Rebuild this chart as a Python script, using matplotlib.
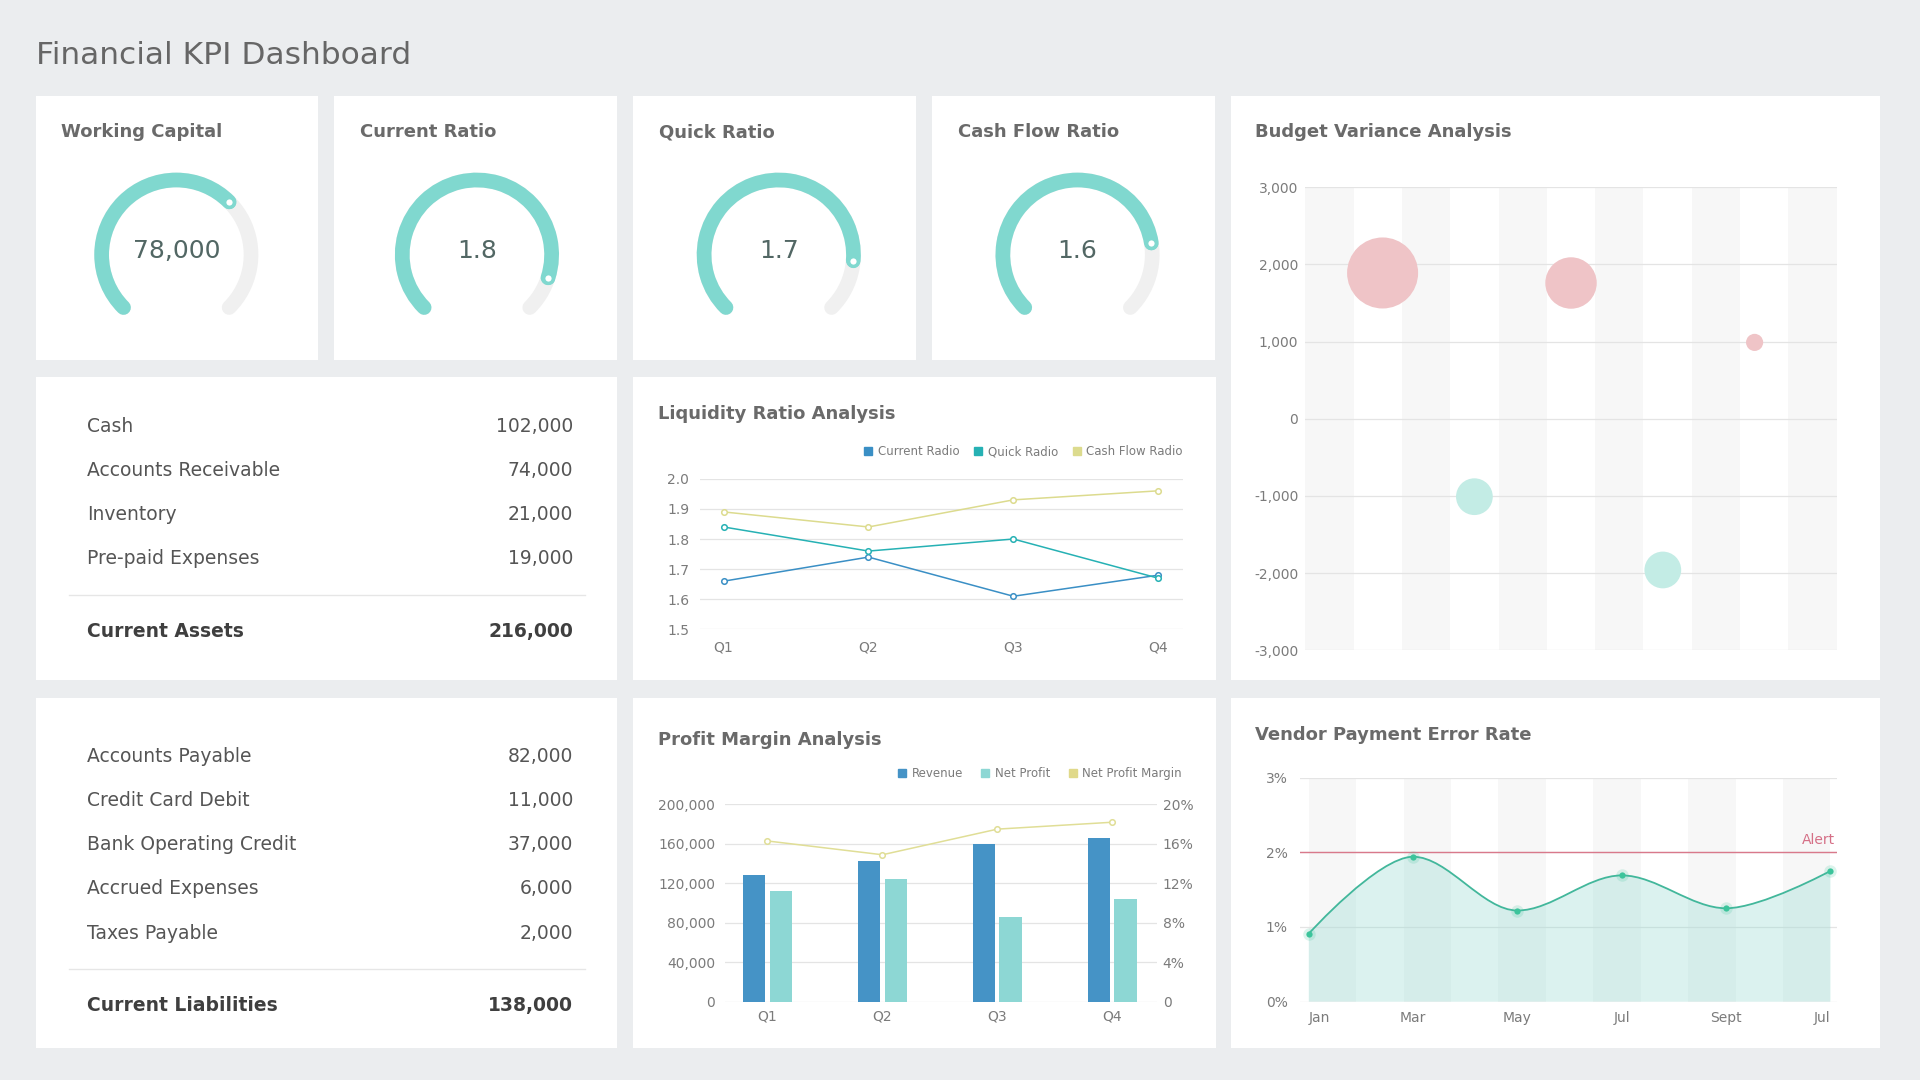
import numpy as np
import matplotlib
matplotlib.use('Agg')
import matplotlib.pyplot as plt
from matplotlib.patches import Rectangle, Arc, PathPatch
from matplotlib.path import Path
from matplotlib.lines import Line2D

# layout is measured on a 1568x882 grid, figure is 1920x1080
W, H = 1568, 882
PT = (1920 / W) * 0.72  # layout px -> points

# ---- data ----
gauge_titles = ['Working Capital', 'Current Ratio', 'Quick Ratio', 'Cash Flow Ratio']
gauge_values = [78000, 1.8, 1.7, 1.6]
gauge_max = [117000, 2.0, 2.0, 2.0]
gauge_labels = ['78,000', '1.8', '1.7', '1.6']

asset_names = ['Cash', 'Accounts Receivable', 'Inventory', 'Pre-paid Expenses']
asset_values = [102000, 74000, 21000, 19000]
liability_names = ['Accounts Payable', 'Credit Card Debit', 'Bank Operating Credit',
                   'Accrued Expenses', 'Taxes Payable']
liability_values = [82000, 11000, 37000, 6000, 2000]

quarters = ['Q1', 'Q2', 'Q3', 'Q4']
current_ratio = [1.66, 1.74, 1.61, 1.68]
quick_ratio = [1.84, 1.76, 1.80, 1.67]
cash_flow_ratio = [1.89, 1.84, 1.93, 1.96]

revenue = [128000, 143000, 160000, 166000]
net_profit = [112000, 124000, 86000, 104000]
net_margin = [16.3, 14.9, 17.5, 18.2]

budget_x = [1.6, 3.5, 5.5, 7.4, 9.3]
budget_variance = [1890, -1010, 1760, -1960, 990]
budget_weight = [29, 15, 21, 15, 7]

months = ['Jan', 'Mar', 'May', 'Jul', 'Sept', 'Jul']
error_rate = [0.91, 1.94, 1.22, 1.69, 1.25, 1.75]
alert_level = 2.0

# ---- style ----
BG = '#ebedef'
TITLE_C = '#6a6a6a'
TEXT_C = '#555555'
TICK_C = '#7b7b7b'
GRID_C = '#e4e4e4'
TEAL = '#80d8cf'
TICK_FS = 10
LEG_FS = 8.5
TAB_FS = 13.5


def rect(x0, y0, x1, y1):
    return [x0 / W, 1 - y1 / H, (x1 - x0) / W, (y1 - y0) / H]


def clean(ax):
    for s in ax.spines.values():
        s.set_visible(False)
    ax.tick_params(length=0, labelsize=TICK_FS, labelcolor=TICK_C)
    ax.set_axisbelow(True)
    ax.yaxis.grid(True, color=GRID_C, lw=0.9)
    ax.set_facecolor('none')


def smooth_path(x, y, base=None):
    x = np.asarray(x, float)
    y = np.asarray(y, float)
    n = len(x)
    m = np.zeros(n)
    for i in range(1, n - 1):
        d0 = (y[i] - y[i - 1]) / (x[i] - x[i - 1])
        d1 = (y[i + 1] - y[i]) / (x[i + 1] - x[i])
        m[i] = 0 if d0 * d1 <= 0 else (d0 + d1) / 2
    verts = [(x[0], y[0])]
    codes = [Path.MOVETO]
    for i in range(n - 1):
        dx = x[i + 1] - x[i]
        c1 = (x[i] + dx / 3, y[i] + m[i] * dx / 3) if i > 0 else (x[i], y[i])
        c2 = (x[i + 1] - dx / 3, y[i + 1] - m[i + 1] * dx / 3) if i < n - 2 else (x[i + 1], y[i + 1])
        verts += [c1, c2, (x[i + 1], y[i + 1])]
        codes += [Path.CURVE4] * 3
    if base is not None:
        verts += [(x[-1], base), (x[0], base), (x[0], y[0])]
        codes += [Path.LINETO, Path.LINETO, Path.CLOSEPOLY]
    return Path(verts, codes)


fig = plt.figure(figsize=(19.2, 10.8), dpi=100, facecolor=BG)
bg = fig.add_axes([0, 0, 1, 1], zorder=0)
bg.set_xlim(0, W)
bg.set_ylim(H, 0)
bg.axis('off')

cards = [(29, 78, 260, 294), (273, 78, 504, 294), (517, 78, 748, 294), (761, 78, 992, 294),
         (1005, 78, 1535, 555), (29, 308, 504, 555), (517, 308, 993, 555),
         (29, 570, 504, 856), (517, 570, 993, 856), (1005, 570, 1535, 856)]
for x0, y0, x1, y1 in cards:
    bg.add_patch(Rectangle((x0, y0), x1 - x0, y1 - y0, color='white', lw=0))

bg.text(29, 45, 'Financial KPI Dashboard', fontsize=22.5, color='#666666', va='center')

for txt, x, y in [('Budget Variance Analysis', 1025, 108), ('Liquidity Ratio Analysis', 537, 338),
                  ('Profit Margin Analysis', 537, 604), ('Vendor Payment Error Rate', 1025, 600)]:
    bg.text(x, y, txt, fontsize=13, fontweight='bold', color=TITLE_C, va='center')

# ---- gauges ----
gauge_cx = [144, 389.5, 636, 880]
title_x = [50, 294, 538, 782]
for i in range(4):
    cx, cy = gauge_cx[i], 208
    bg.text(title_x[i], 108, gauge_titles[i], fontsize=13, fontweight='bold', color=TITLE_C, va='center')
    ax = fig.add_axes(rect(cx - 80, cy - 80, cx + 80, cy + 80))
    ax.set_xlim(-80, 80)
    ax.set_ylim(-80, 80)
    ax.set_aspect('equal')
    ax.axis('off')
    frac = gauge_values[i] / gauge_max[i]
    end = 225 - 270 * frac
    ax.add_patch(Arc((0, 0), 122, 122, theta1=-45, theta2=225, color='#f0f0f0',
                     lw=12 * PT, capstyle='round'))
    ax.add_patch(Arc((0, 0), 122, 122, theta1=end, theta2=225, color=TEAL,
                     lw=12 * PT, capstyle='round'))
    a = np.radians(end)
    ax.plot(61 * np.cos(a), 61 * np.sin(a), 'o', ms=7, mfc='white', mec=TEAL, mew=2.5)
    ax.text(0, 3, gauge_labels[i], fontsize=18, color='#526764', ha='center', va='center')

# ---- tables ----
def draw_table(names, values, total_name, y_rows, y_line, y_total):
    for name, val, y in zip(names, values, y_rows):
        bg.text(71, y, name, fontsize=TAB_FS, color=TEXT_C, va='center')
        bg.text(468, y, f'{val:,}', fontsize=TAB_FS, color=TEXT_C, va='center', ha='right')
    bg.plot([56, 478], [y_line, y_line], color='#e6e6e6', lw=1)
    bg.text(71, y_total, total_name, fontsize=TAB_FS, color='#3f3f3f', va='center', fontweight='bold')
    bg.text(468, y_total, f'{sum(values):,}', fontsize=TAB_FS, color='#3f3f3f', va='center',
            ha='right', fontweight='bold')


draw_table(asset_names, asset_values, 'Current Assets', [348, 384, 420, 456], 486, 516)
draw_table(liability_names, liability_values, 'Current Liabilities',
           [618, 654, 690, 726, 762], 791, 821)

# ---- liquidity ratio ----
ax = fig.add_axes(rect(572, 391, 966, 514))
clean(ax)
xq = np.arange(len(quarters))
liq = [(current_ratio, '#3a8fc5', 'Current Radio'),
       (quick_ratio, '#26b1b4', 'Quick Radio'),
       (cash_flow_ratio, '#dcdb8e', 'Cash Flow Radio')]
for vals, c, lab in liq:
    ax.plot(xq, vals, color=c, lw=1.1, marker='o', ms=4, mfc='white', mec=c, mew=1.1)
ax.set_ylim(1.5, 2.0)
ax.set_yticks([1.5, 1.6, 1.7, 1.8, 1.9, 2.0])
ax.set_yticklabels([f'{v:.1f}' for v in [1.5, 1.6, 1.7, 1.8, 1.9, 2.0]])
ax.set_xlim(-0.16, 3.17)
ax.set_xticks(xq)
ax.set_xticklabels(quarters)
ax.tick_params(axis='x', pad=8)
ax.tick_params(axis='y', pad=8)
handles = [Line2D([], [], marker='s', ls='', color=c, ms=5.5, label=lab) for _, c, lab in liq]
ax.legend(handles=handles, loc='center right', bbox_to_anchor=(1.0, 1.18), ncol=3, frameon=False,
          fontsize=LEG_FS, handlelength=0.8, handletextpad=0.4, columnspacing=1.2,
          borderpad=0, borderaxespad=0, labelcolor=TICK_C)

# ---- profit margin ----
ax = fig.add_axes(rect(592, 657, 945, 818))
clean(ax)
bw = 0.197
ax.bar(xq - 0.117, revenue, bw, color='#4593c6')
ax.bar(xq + 0.117, net_profit, bw, color='#8dd7d4')
ax.set_ylim(0, 200000)
ticks = [0, 40000, 80000, 120000, 160000, 200000]
ax.set_yticks(ticks)
ax.set_yticklabels([f'{t:,}' for t in ticks])
ax.set_xlim(-0.37, 3.39)
ax.set_xticks(xq)
ax.set_xticklabels(quarters)
ax.tick_params(axis='x', pad=6)
ax.tick_params(axis='y', pad=7)
ax2 = ax.twinx()
for s in ax2.spines.values():
    s.set_visible(False)
ax2.plot(xq, net_margin, color='#e0de96', lw=1.1, marker='o', ms=4, mfc='white', mec='#e0de96', mew=1.1)
ax2.set_ylim(0, 20)
ax2.set_yticks([0, 4, 8, 12, 16, 20])
ax2.set_yticklabels([f'{t}%' if t else '0' for t in [0, 4, 8, 12, 16, 20]])
ax2.tick_params(length=0, labelsize=TICK_FS, labelcolor=TICK_C, pad=4)
handles = [Line2D([], [], marker='s', ls='', color='#4593c6', ms=5.5, label='Revenue'),
           Line2D([], [], marker='s', ls='', color='#8dd7d4', ms=5.5, label='Net Profit'),
           Line2D([], [], marker='s', ls='', color='#e0d98a', ms=5.5, label='Net Profit Margin')]
ax2.legend(handles=handles, loc='center right', bbox_to_anchor=(1.057, 1.155), ncol=3, frameon=False,
           fontsize=LEG_FS, handlelength=0.8, handletextpad=0.4, columnspacing=1.5,
           borderpad=0, borderaxespad=0, labelcolor=TICK_C)

# ---- budget variance ----
ax = fig.add_axes(rect(1066, 153, 1500, 531))
clean(ax)
for k in range(0, 11, 2):
    ax.axvspan(k, k + 1, color='#f7f7f7', lw=0, zorder=0)
ax.set_xlim(0, 11)
ax.set_ylim(-3000, 3000)
bt = list(range(-3000, 3001, 1000))
ax.set_yticks(bt)
ax.set_yticklabels([f'{t:,}' for t in bt])
ax.set_xticks([])
ax.tick_params(axis='y', pad=5)
bcol = ['#efc4c7' if v > 0 else '#c3ece5' for v in budget_variance]
bsize = [(2 * w * PT) ** 2 for w in budget_weight]
ax.scatter(budget_x, budget_variance, s=bsize, c=bcol, lw=0, zorder=3)

# ---- vendor payment error rate ----
ax = fig.add_axes(rect(1062, 635, 1500, 818))
clean(ax)
xm = np.arange(len(months))
for k in range(0, 11, 2):
    ax.axvspan(k * 5 / 11, (k + 1) * 5 / 11, color='#f7f7f7', lw=0, zorder=0)
ax.add_patch(PathPatch(smooth_path(xm, error_rate, base=0), facecolor='#8fd9cf', alpha=0.32,
                       lw=0, zorder=1))
ax.add_patch(PathPatch(smooth_path(xm, error_rate), facecolor='none', edgecolor='#42b79b',
                       lw=1.3, zorder=3))
ax.plot(xm, error_rate, 'o', ms=9, color='#3cc49b', alpha=0.18, mew=0, zorder=4)
ax.plot(xm, error_rate, 'o', ms=4.5, color='#3cc49b', mew=0, zorder=5)
ax.axhline(alert_level, color='#d9798b', lw=1, zorder=2)
ax.annotate('Alert', xy=(1, alert_level), xycoords=('axes fraction', 'data'),
            xytext=(-1, 4), textcoords='offset points', ha='right', va='bottom',
            fontsize=TICK_FS, color='#d56f86')
ax.set_xlim(-0.08, 5.06)
ax.set_ylim(0, 3)
ax.set_yticks([0, 1, 2, 3])
ax.set_yticklabels(['0%', '1%', '2%', '3%'])
ax.set_xticks(xm)
ax.set_xticklabels(months)
ax.tick_params(axis='x', pad=7)
ax.tick_params(axis='y', pad=9)
xl = ax.get_xticklabels()
xl[0].set_ha('left')
xl[-1].set_ha('right')

fig.savefig('out.png', dpi=100, facecolor=BG)
